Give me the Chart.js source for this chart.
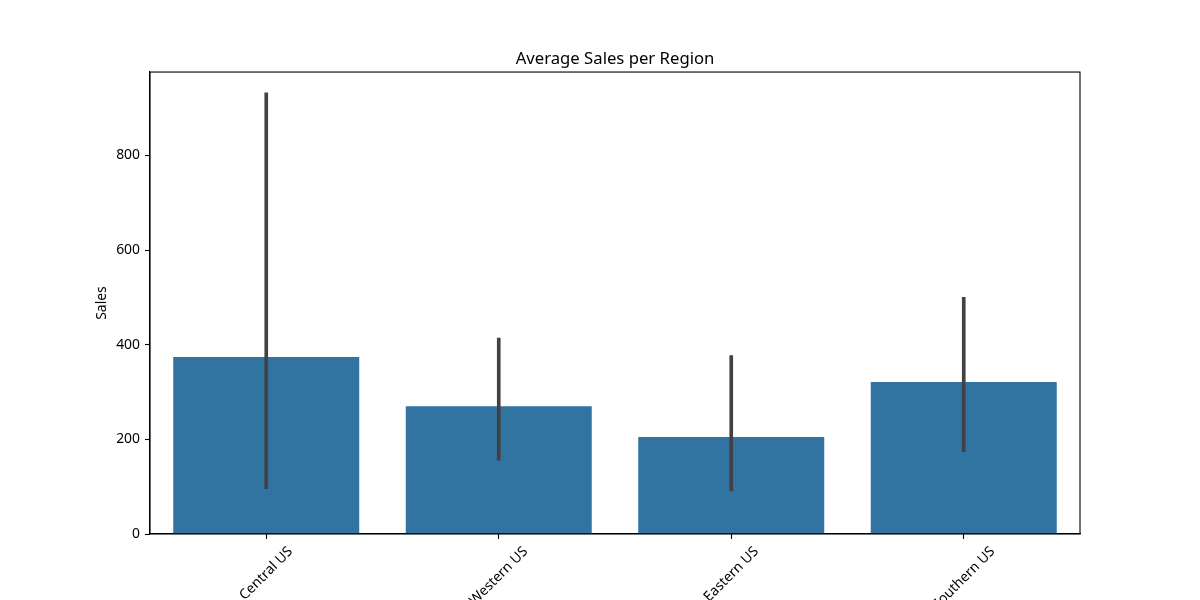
<!DOCTYPE html>
<html>
<head>
<meta charset="utf-8">
<script src="https://cdn.jsdelivr.net/npm/chart.js@4"></script>
<style>
  html, body { margin: 0; padding: 0; background: #fff; }
  #wrap { width: 1200px; height: 600px; }
</style>
</head>
<body>
<div id="wrap"><canvas id="salesChart" width="1200" height="600"></canvas></div>
<script>
// Valores
const regions = ["Central US", "Western US", "Eastern US", "Southern US"];
const avgSales = [374, 270, 205, 321];
const ciLow = [96, 156, 91, 174];
const ciHigh = [932, 414, 377, 500];
const yTicks = [0, 200, 400, 600, 800];
const yMax = 976;

const FONT = "'Noto Sans', 'Open Sans', sans-serif";

// Moldura completa em volta da área do gráfico
const frame = {
  id: "frame",
  afterDraw(chart) {
    const { ctx, chartArea: a } = chart;
    ctx.save();
    ctx.strokeStyle = "#000";
    ctx.lineWidth = 1.1;
    ctx.strokeRect(a.left, a.top, a.right - a.left, a.bottom - a.top);
    ctx.restore();
  }
};

// Rótulos do eixo x rodados 45°, centrados no tick (estilo matplotlib)
const rotatedLabels = {
  id: "rotatedLabels",
  afterDraw(chart) {
    const { ctx } = chart;
    const xs = chart.scales.x;
    const size = 13.9;
    ctx.save();
    ctx.font = size + "px " + FONT;
    ctx.fillStyle = "#000";
    ctx.textAlign = "center";
    ctx.textBaseline = "middle";
    const c = Math.SQRT1_2;
    regions.forEach((label, i) => {
      const x = xs.getPixelForTick(i);
      const w = ctx.measureText(label).width;
      const h = size * 1.1;
      const top = chart.chartArea.bottom + 10;
      const cy = top + (w + h) * c / 2;
      ctx.save();
      ctx.translate(x, cy);
      ctx.rotate(-Math.PI / 4);
      ctx.fillText(label, 0, 0);
      ctx.restore();
    });
    ctx.restore();
  }
};

const ctx = document.getElementById("salesChart").getContext("2d");
new Chart(ctx, {
  type: "bar",
  data: {
    labels: regions,
    datasets: [
      {
        label: "CI",
        data: regions.map((r, i) => [ciLow[i], ciHigh[i]]),
        backgroundColor: "#424242",
        barThickness: 3,
        grouped: false,
        order: 0
      },
      {
        label: "Sales",
        data: avgSales,
        backgroundColor: "#3274a1",
        categoryPercentage: 0.8,
        barPercentage: 1.0,
        grouped: false,
        order: 1
      }
    ]
  },
  options: {
    responsive: false,
    animation: false,
    layout: { padding: { left: 30, right: 0, top: 0, bottom: 0 } },
    plugins: {
      legend: { display: false },
      tooltip: { enabled: false },
      title: {
        display: true,
        text: "Average Sales per Region",
        color: "#000",
        font: { family: FONT, size: 16.7, weight: "normal", lineHeight: 1.2 },
        padding: { top: 49, bottom: 3 }
      }
    },
    scales: {
      x: {
        offset: true,
        grid: { display: true, drawOnChartArea: false, offset: false, tickLength: 5, color: "#000", tickWidth: 1.1 },
        border: { display: true, color: "#000", width: 1.1 },
        ticks: { display: false },
        afterFit(scale) { scale.height = 66; }
      },
      y: {
        min: 0,
        max: yMax,
        afterBuildTicks(scale) { scale.ticks = yTicks.map(v => ({ value: v })); },
        grid: { display: true, drawOnChartArea: false, tickLength: 5, color: "#000", tickWidth: 1.1 },
        border: { display: true, color: "#000", width: 1.1 },
        ticks: { color: "#000", padding: 5, font: { family: FONT, size: 13.9 } },
        title: {
          display: true,
          text: "Sales",
          color: "#000",
          font: { family: FONT, size: 13.9 },
          padding: { top: 64, bottom: 0 }
        },
        afterFit(scale) { scale.width = 120; }
      },
      // eixo vazio à direita, só para reservar a margem
      yRight: {
        position: "right",
        display: true,
        grid: { display: false },
        border: { display: false },
        ticks: { display: false },
        afterFit(scale) { scale.width = 120; }
      }
    }
  },
  plugins: [frame, rotatedLabels]
});
</script>
</body>
</html>
